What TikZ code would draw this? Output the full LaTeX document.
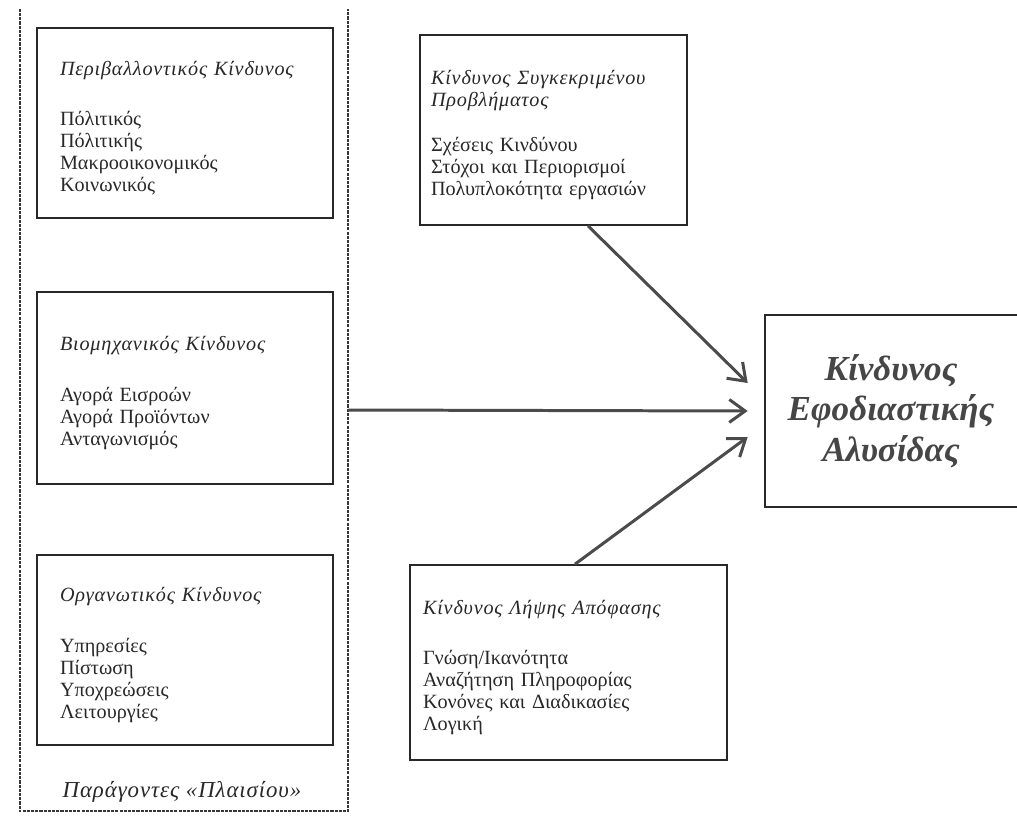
\documentclass[tikz,border=0pt]{standalone}
\usepackage{fontspec}
\setmainfont{Liberation Serif}
\usetikzlibrary{arrows.meta}
\definecolor{inkgray}{RGB}{40,40,40}
\definecolor{arrowgray}{RGB}{75,75,75}
\definecolor{framegray}{RGB}{55,55,55}
\definecolor{chaingray}{RGB}{70,70,70}
\newcommand{\headfont}{\itshape\addfontfeatures{LetterSpace=4}}
\newcommand{\boxhead}[1]{\rule{0pt}{14pt}{\headfont #1}\\[16pt]}

\begin{document}
\begin{tikzpicture}[x=0.02cm,y=-0.02cm,every node/.style={font=\fontsize{11.5}{12.6}\selectfont,text=inkgray},
    riskbox/.style={draw=inkgray,line width=1pt,align=left,inner xsep=0.46cm,inner ysep=0pt},
    linkarrow/.style={draw=arrowgray,line width=1.7pt,-{Straight Barb[length=9pt,width=13pt]}},
    frameline/.style={draw=framegray,line width=1pt,dash pattern=on 1.8pt off 0.6pt}]
    \useasboundingbox[fill=white] (0,0) rectangle (1017,818);
    \node[minimum width=6.56cm,minimum height=16.04cm,inner sep=0pt] (frame) at (184,410) {};
    \draw[frameline] (frame.north west)--(frame.south west)--(frame.south east)--(frame.north east);
    \node[riskbox,text width=5.0cm,minimum height=3.8cm] (env) at (185,123) {\boxhead{Περιβαλλοντικός Κίνδυνος}Πόλιτικός\\Πόλιτικής\\Μακροοικονομικός\\Κοινωνικός};
    \node[riskbox,text width=5.0cm,minimum height=3.84cm] (ind) at (185,388) {\boxhead{Βιομηχανικός Κίνδυνος}Αγορά Εισροών\\Αγορά Προϊόντων\\Ανταγωνισμός};
    \node[riskbox,text width=5.0cm,minimum height=3.8cm] (org) at (185,650) {\boxhead{Οργανωτικός Κίνδυνος}Υπηρεσίες\\Πίστωση\\Υποχρεώσεις\\Λειτουργίες};
    \node[font=\fontsize{13}{14}\selectfont\headfont] (framelabel) at (182,792) {Παράγοντες «Πλαισίου»};
    \node[riskbox,inner xsep=0.22cm,text width=4.9cm,minimum height=3.8cm] (probl) at (553.5,130) {\rule{0pt}{14pt}{\headfont Κίνδυνος Συγκεκριμένου}\\{\headfont Προβλήματος}\\[13pt]Σχέσεις Κινδύνου\\Στόχοι και Περιορισμοί\\Πολυπλοκότητα εργασιών};
    \node[riskbox,inner xsep=0.26cm,text width=5.82cm,minimum height=3.9cm] (decis) at (568.5,662.5) {\boxhead{Κίνδυνος Λήψης Απόφασης}Γνώση/Ικανότητα\\Αναζήτηση Πληροφορίας\\Κονόνες και Διαδικασίες\\Λογική};
    \node[minimum width=5.04cm,minimum height=3.84cm,inner sep=0pt,align=center,font=\fontsize{20}{23}\selectfont\bfseries\itshape,text=chaingray] (chain) at (891,411) {Κίνδυνος\\Εφοδιαστικής\\Αλυσίδας};
    \draw[draw=inkgray,line width=1pt] (chain.north east)--(chain.north west)--(chain.south west)--(chain.south east);
    \draw[linkarrow] (frame.east)--([xshift=-0.34cm]chain.west);
    \draw[linkarrow] ([xshift=0.69cm]probl.south)--([xshift=-0.34cm,yshift=0.56cm]chain.west);
    \draw[linkarrow] ([xshift=0.13cm]decis.north)--([xshift=-0.34cm,yshift=-0.52cm]chain.west);
\end{tikzpicture}
\end{document}
